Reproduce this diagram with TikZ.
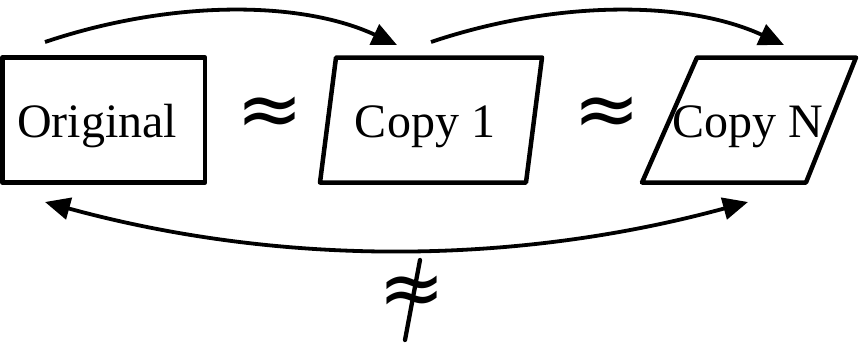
\documentclass[tikz,border=0pt]{standalone}
\usepackage{fontspec}
\setmainfont{Liberation Serif}
\newfontfamily\relfont{DejaVu Sans}
\usetikzlibrary{arrows.meta}
\begin{document}
\begin{tikzpicture}[x=1pt,y=-1pt,
  shapeline/.style={line width=4.5pt,line join=round},
  label/.style={font=\fontsize{48}{50}\selectfont,inner sep=0pt,anchor=base},
  rel/.style={font=\relfont\fontsize{80}{80}\selectfont,inner sep=0pt},
  link/.style={line width=3.8pt,-{Triangle[length=25pt,width=22pt]}},
  dlink/.style={line width=3.8pt,{Triangle[length=25pt,width=22pt]}-{Triangle[length=25pt,width=22pt]}}]
\useasboundingbox (0,0) rectangle (862,343);
% shapes
\draw[shapeline] (2.3,57.5) -- (205,57.5) -- (205,182.5) -- (2.3,182.5) -- cycle;
\draw[shapeline] (336,57.5) -- (542,57.5) -- (526,182.5) -- (320,182.5) -- cycle;
\draw[shapeline] (697,57.5) -- (856,57.5) -- (806,182.5) -- (642,182.5) -- cycle;
% texts
\node[label] (orig) at (97,137) {Original};
\node[label] (copy1) at (425,137) {Copy 1};
\node[label] (copyN) at (748,137) {Copy N};
\node[rel] (ap1) at (270,117) {≈};
\node[rel] (ap2) at (607,117) {≈};
\node[rel] (nap) at (412,296) {≈};
\draw[line width=4.3pt,line cap=round] (420,260) -- (405,340);
% connectors
\coordinate (a1s) at (45,42);
\coordinate (a1e) at (397,45);
\coordinate (a2s) at (431,42);
\coordinate (a2e) at (784,45);
\coordinate (bl) at (45,202);
\coordinate (br) at (748,202);
\draw[link] (a1s) .. controls (170,0) and (300,0) .. (a1e);
\draw[link] (a2s) .. controls (556,0) and (686,0) .. (a2e);
\draw[dlink] (bl) .. controls (279,266) and (513,266) .. (br);
\end{tikzpicture}
\end{document}
